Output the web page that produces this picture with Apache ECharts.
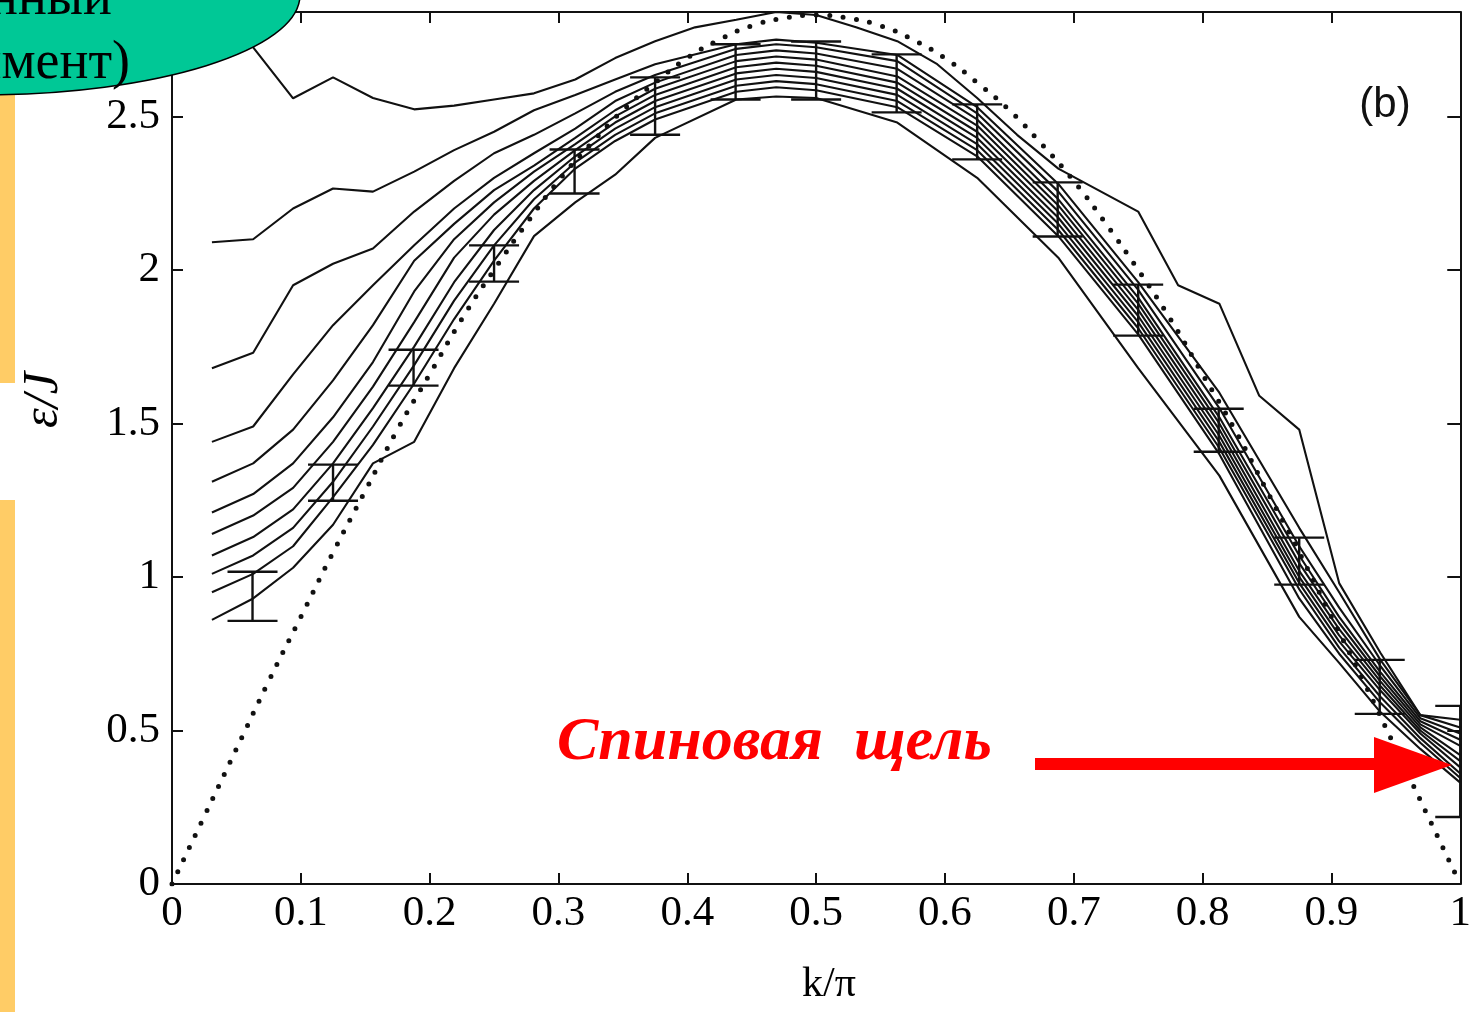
<!DOCTYPE html>
<html>
<head>
<meta charset="utf-8">
<script src="https://cdn.jsdelivr.net/npm/echarts@6/dist/echarts.min.js"></script>
<style>
  html, body { margin: 0; padding: 0; background: #fff; }
  #main { width: 1474px; height: 1012px; }
</style>
</head>
<body>
<div id="main"></div>
<script>
// k/pi positions of the bundle curves
const kGrid = [0.031, 0.063, 0.094, 0.125, 0.156, 0.188, 0.219, 0.25, 0.281, 0.313, 0.344, 0.375,
  0.438, 0.469, 0.5, 0.563, 0.625, 0.688, 0.75, 0.813, 0.875, 0.906, 0.938, 0.969, 1.0];

// bundle curves, bottom (c0) to top (c9)
const c0 = [0.86, 0.93, 1.03, 1.17, 1.37, 1.44, 1.68, 1.89, 2.11, 2.22, 2.31, 2.43, 2.555, 2.565, 2.56, 2.48, 2.30, 2.04, 1.68, 1.33, 0.87, 0.72, 0.56, 0.44, 0.33];
const c1 = [0.95, 1.01, 1.10, 1.26, 1.43, 1.63, 1.84, 2.03, 2.20, 2.33, 2.42, 2.49, 2.58, 2.595, 2.585, 2.53, 2.37, 2.11, 1.79, 1.40, 0.93, 0.75, 0.59, 0.46, 0.345];
const c2 = [1.01, 1.07, 1.16, 1.31, 1.49, 1.69, 1.90, 2.08, 2.23, 2.35, 2.44, 2.51, 2.60, 2.615, 2.605, 2.55, 2.39, 2.13, 1.81, 1.42, 0.96, 0.77, 0.61, 0.475, 0.36];
const c3 = [1.07, 1.13, 1.22, 1.37, 1.55, 1.75, 1.96, 2.13, 2.26, 2.37, 2.46, 2.53, 2.62, 2.635, 2.625, 2.57, 2.41, 2.15, 1.83, 1.44, 0.98, 0.79, 0.63, 0.49, 0.38];
const c4 = [1.14, 1.20, 1.29, 1.44, 1.62, 1.83, 2.04, 2.18, 2.29, 2.39, 2.48, 2.55, 2.64, 2.655, 2.645, 2.59, 2.43, 2.17, 1.85, 1.46, 1.00, 0.81, 0.645, 0.50, 0.40];
const c5 = [1.21, 1.27, 1.37, 1.52, 1.70, 1.93, 2.10, 2.22, 2.32, 2.41, 2.50, 2.57, 2.66, 2.675, 2.665, 2.61, 2.45, 2.19, 1.87, 1.48, 1.02, 0.83, 0.66, 0.51, 0.42];
const c6 = [1.31, 1.37, 1.48, 1.64, 1.82, 2.03, 2.15, 2.26, 2.34, 2.43, 2.52, 2.59, 2.68, 2.695, 2.685, 2.63, 2.47, 2.21, 1.89, 1.50, 1.045, 0.85, 0.675, 0.52, 0.45];
const c7 = [1.44, 1.49, 1.66, 1.82, 1.95, 2.08, 2.20, 2.30, 2.38, 2.46, 2.55, 2.61, 2.70, 2.715, 2.705, 2.655, 2.49, 2.23, 1.91, 1.52, 1.07, 0.87, 0.69, 0.53, 0.47];
const c8 = [1.68, 1.73, 1.95, 2.02, 2.07, 2.19, 2.29, 2.38, 2.44, 2.51, 2.58, 2.635, 2.72, 2.735, 2.725, 2.68, 2.51, 2.255, 1.935, 1.55, 1.10, 0.90, 0.71, 0.54, 0.49];
const c9 = [2.09, 2.10, 2.20, 2.265, 2.255, 2.32, 2.39, 2.45, 2.52, 2.57, 2.62, 2.67, 2.735, 2.75, 2.74, 2.70, 2.53, 2.28, 1.96, 1.60, 1.16, 0.95, 0.73, 0.55, 0.51];
const bundle = [c0, c1, c2, c3, c4, c5, c6, c7, c8, c9];

// outermost curve (every 1/32)
const kTop = [0.031, 0.063, 0.094, 0.125, 0.156, 0.188, 0.219, 0.25, 0.281, 0.313, 0.344, 0.375, 0.406, 0.438, 0.469, 0.5,
  0.531, 0.563, 0.594, 0.625, 0.656, 0.688, 0.719, 0.75, 0.781, 0.813, 0.844, 0.875, 0.906, 0.938, 0.969, 1.0];
const topCurve = [2.92, 2.725, 2.559, 2.627, 2.56, 2.523, 2.535, 2.555, 2.575, 2.62, 2.69, 2.745, 2.79, 2.815, 2.84, 2.83,
  2.79, 2.745, 2.67, 2.56, 2.44, 2.33, 2.26, 2.19, 1.95, 1.89, 1.59, 1.48, 0.98, 0.753, 0.55, 0.535];

// dotted curve
const kDots = [0, 0.025, 0.05, 0.075, 0.1, 0.125, 0.15, 0.175, 0.2, 0.225, 0.25, 0.275, 0.3, 0.325, 0.35, 0.375, 0.4, 0.425, 0.45, 0.475, 0.5,
  0.525, 0.55, 0.575, 0.6, 0.625, 0.65, 0.675, 0.7, 0.725, 0.75, 0.775, 0.8, 0.825, 0.85, 0.875, 0.9, 0.925, 0.95, 0.975, 1];
const dotVals = [0, 0.22, 0.44, 0.66, 0.87, 1.08, 1.28, 1.48, 1.66, 1.84, 2.00, 2.15, 2.29, 2.41, 2.52, 2.61, 2.69, 2.75, 2.795, 2.82, 2.83,
  2.82, 2.795, 2.75, 2.69, 2.61, 2.52, 2.41, 2.29, 2.15, 2.00, 1.84, 1.66, 1.48, 1.28, 1.08, 0.87, 0.66, 0.44, 0.22, 0];

// error bars
const errK = [0.0625, 0.125, 0.1875, 0.25, 0.3125, 0.375, 0.4375, 0.5, 0.5625, 0.625, 0.6875, 0.75, 0.8125, 0.875, 0.9375, 1.0];
const errLow = [0.857, 1.248, 1.623, 1.962, 2.249, 2.44, 2.555, 2.555, 2.513, 2.36, 2.109, 1.786, 1.408, 0.975, 0.554, 0.218];
const errHigh = [1.017, 1.366, 1.74, 2.08, 2.392, 2.627, 2.735, 2.744, 2.702, 2.539, 2.285, 1.952, 1.548, 1.128, 0.73, 0.58];

const ink = '#111';
const serif = '"Liberation Serif", "DejaVu Serif", serif';

const lineSeries = (data) => ({
    type: 'line',
    data: data,
    showSymbol: false,
    symbol: 'none',
    clip: true,
    lineStyle: { color: ink, width: 2.1 },
    silent: true,
    animation: false
});

const series = bundle.map(vals => lineSeries(kGrid.map((k, i) => [k, vals[i]])));
series.push(lineSeries(kTop.map((k, i) => [k, topCurve[i]])));
series.push({
    type: 'line',
    data: kDots.map((k, i) => [k, dotVals[i]]),
    showSymbol: false,
    symbol: 'none',
    smooth: true,
    clip: true,
    lineStyle: { color: ink, width: 5, type: [0, 13.5], cap: 'round' },
    animation: false
});
series.push({
    type: 'custom',
    clip: true,
    data: errK.map((k, i) => [k, errLow[i], errHigh[i]]),
    renderItem: (params, api) => {
        const lo = api.coord([api.value(0), api.value(1)]);
        const hi = api.coord([api.value(0), api.value(2)]);
        const hw = 25;
        const st = { stroke: ink, lineWidth: 2.4 };
        return {
            type: 'group',
            children: [
                { type: 'line', shape: { x1: lo[0], y1: lo[1], x2: hi[0], y2: hi[1] }, style: st },
                { type: 'line', shape: { x1: lo[0] - hw, y1: lo[1], x2: lo[0] + hw, y2: lo[1] }, style: st },
                { type: 'line', shape: { x1: hi[0] - hw, y1: hi[1], x2: hi[0] + hw, y2: hi[1] }, style: st }
            ]
        };
    },
    animation: false
});

const axisCommon = {
    type: 'value',
    splitLine: { show: false },
    axisLine: { show: true, onZero: false, lineStyle: { color: ink, width: 2 } },
    axisTick: { show: true, inside: true, length: 11, lineStyle: { color: ink, width: 2 } }
};

const option = {
    animation: false,
    backgroundColor: '#fff',
    grid: { left: 172, right: 8, top: 12, bottom: 128 },
    xAxis: [
        Object.assign({}, axisCommon, {
            position: 'bottom', min: 0, max: 1, interval: 0.1,
            axisLabel: {
                color: '#000', fontFamily: serif, fontSize: 43, margin: 8,
                formatter: v => String(+v.toFixed(1))
            }
        }),
        Object.assign({}, axisCommon, {
            position: 'top', min: 0, max: 1, interval: 0.1,
            axisLabel: { show: false }
        })
    ],
    yAxis: [
        Object.assign({}, axisCommon, {
            position: 'left', min: 0, max: 2.84, interval: 0.5,
            axisLabel: {
                color: '#000', fontFamily: serif, fontSize: 43, margin: 12,
                formatter: v => (Math.abs(v * 2 - Math.round(v * 2)) < 1e-6 ? String(v) : '')
            }
        }),
        Object.assign({}, axisCommon, {
            position: 'right', min: 0, max: 2.84, interval: 0.5,
            axisLabel: { show: false },
            axisTick: { show: true, inside: true, length: 13, lineStyle: { color: ink, width: 2 } }
        })
    ],
    series: series,
    graphic: [
        // axis names
        { type: 'text', x: 829, y: 985, z: 50,
          style: { text: 'k/π', fontFamily: serif, fontSize: 42, fill: '#000', align: 'center', verticalAlign: 'middle' } },
        { type: 'text', x: 44, y: 400, rotation: Math.PI / 2, z: 50,
          style: { text: 'ε/J', fontFamily: serif, fontStyle: 'italic', fontSize: 50, fill: '#000', align: 'center', verticalAlign: 'middle' } },
        { type: 'text', x: 1385, y: 105, z: 50,
          style: { text: '(b)', fontFamily: '"Liberation Sans", Arial, sans-serif', fontSize: 42, fill: '#111', align: 'center', verticalAlign: 'middle' } },
        // side bars
        { type: 'rect', z: 60, shape: { x: 0, y: 95, width: 15, height: 288 }, style: { fill: '#FFCC66' } },
        { type: 'rect', z: 60, shape: { x: 0, y: 500, width: 15, height: 512 }, style: { fill: '#FFCC66' } },
        // teal ellipse with text
        { type: 'ellipse', z: 70, shape: { cx: -20, cy: -5, rx: 320, ry: 100 },
          style: { fill: '#00C896', stroke: '#000', lineWidth: 1.5 } },
        { type: 'text', x: 112, y: 0, z: 71,
          style: { text: 'нный', fontFamily: serif, fontSize: 54, fill: '#000', align: 'right', verticalAlign: 'middle' } },
        { type: 'text', x: 130, y: 64, z: 71,
          style: { text: 'имент)', fontFamily: serif, fontSize: 54, fill: '#000', align: 'right', verticalAlign: 'middle' } },
        // red annotation
        { type: 'text', x: 557, y: 743, z: 80,
          style: { text: 'Спиновая  щель', fontFamily: serif, fontStyle: 'italic', fontWeight: 'bold', fontSize: 62, fill: '#FF0000', align: 'left', verticalAlign: 'middle' } },
        { type: 'rect', z: 80, shape: { x: 1035, y: 758, width: 342, height: 12 }, style: { fill: '#FF0000' } },
        { type: 'polygon', z: 80, shape: { points: [[1374, 737], [1374, 793], [1452, 765]] }, style: { fill: '#FF0000' } }
    ]
};

const chart = echarts.init(document.getElementById('main'), null, { renderer: 'canvas' });
chart.setOption(option);
</script>
</body>
</html>
